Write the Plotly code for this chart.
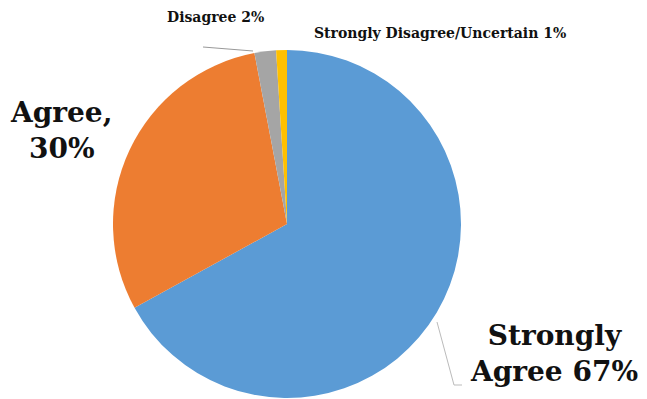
import plotly.graph_objects as go

labels = ["Strongly Agree", "Agree", "Disagree", "Strongly Disagree/Uncertain"]
values = [67, 30, 2, 1]
colors = ["#5B9BD5", "#ED7D31", "#A5A5A5", "#FFC000"]

W, H = 647, 399

def px(x):
    return x / W

def py(y):
    return 1 - y / H

fig = go.Figure(go.Pie(
    labels=labels, values=values, sort=False, direction="clockwise", rotation=0,
    marker=dict(colors=colors, line=dict(width=0)),
    textinfo="none", hoverinfo="label+percent", showlegend=False,
    domain=dict(x=[px(113), px(461)], y=[py(398), py(50)]),
))

font_big = dict(family="DejaVu Serif", size=28, color="#111111")
font_small = dict(family="DejaVu Serif", size=14, color="#111111")

ann = [
    dict(text="<b>Agree,<br>30%</b>", x=px(61), y=py(130), font=font_big, align="center"),
    dict(text="<b>Strongly<br>Agree 67%</b>", x=px(554), y=py(353), font=font_big, align="center"),
    dict(text="<b>Disagree 2%</b>", x=px(215), y=py(17), font=font_small),
    dict(text="<b>Strongly Disagree/Uncertain 1%</b>", x=px(440), y=py(33), font=font_small),
]
for a in ann:
    a.update(xref="paper", yref="paper", showarrow=False, xanchor="center", yanchor="middle")

shapes = [
    dict(type="path", xref="paper", yref="paper",
         path=f"M {px(203)} {py(47)} L {px(253)} {py(51)}",
         line=dict(color="#999999", width=1)),
    dict(type="path", xref="paper", yref="paper",
         path=f"M {px(437)} {py(322)} L {px(454)} {py(385)} L {px(462)} {py(385)}",
         line=dict(color="#bbbbbb", width=1)),
]

fig.update_layout(
    width=W, height=H, margin=dict(l=0, r=0, t=0, b=0),
    paper_bgcolor="white", plot_bgcolor="white",
    annotations=ann, shapes=shapes,
)

fig.write_html("out.html")
